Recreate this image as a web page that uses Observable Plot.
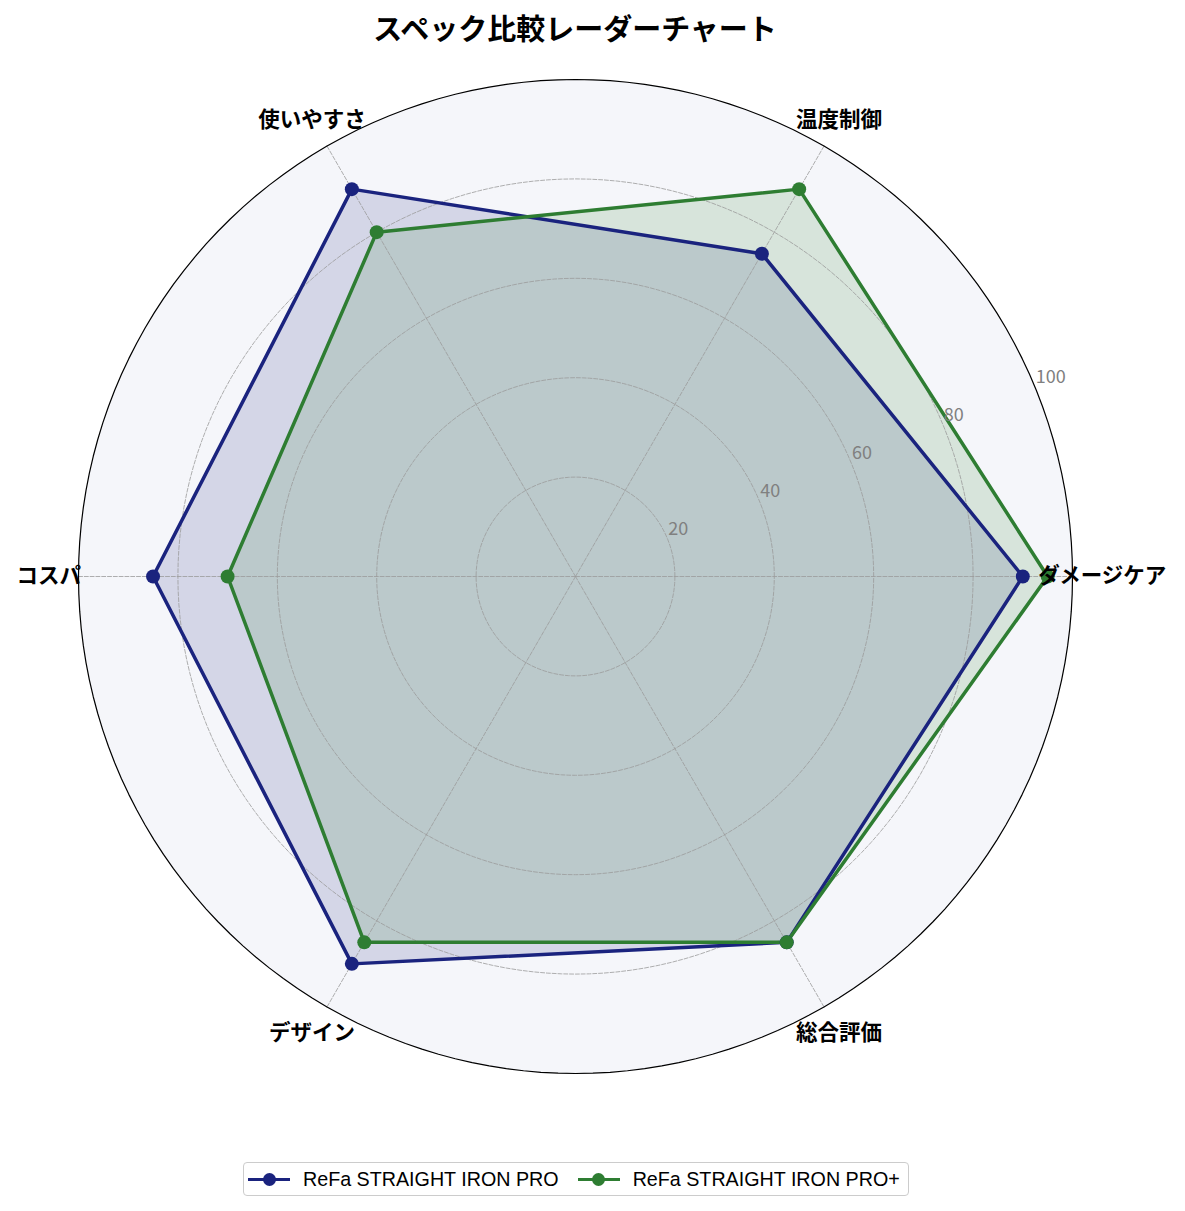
<!DOCTYPE html>
<html>
<head>
<meta charset="utf-8">
<script src="https://cdn.jsdelivr.net/npm/d3@7"></script>
<script src="https://cdn.jsdelivr.net/npm/@observablehq/plot@0.6"></script>
<style>
  html, body { margin: 0; padding: 0; background: #fff; }
  body { width: 1185px; font-family: "Noto Sans CJK JP", "Noto Sans", sans-serif; }
  #title { width: 1150px; height: 54px; line-height: 54px; text-align: center; font-size: 29px; font-weight: bold; color: #000; }
  #chart svg { display: block; }
  #legend { margin: 8px 0 0 243px; height: 34px; border: 1.5px solid #ccc; border-radius: 4px; box-sizing: border-box; display: inline-flex; align-items: center; padding: 0 8px 0 4px; font-family: "Liberation Sans", Arial, sans-serif; font-size: 19.7px; color: #000; }
  .item { display: flex; align-items: center; }
  .item + .item { margin-left: 19px; }
  .sw { position: relative; width: 42px; height: 14px; margin-right: 13px; }
  .sw .ln { position: absolute; left: 0; right: 0; top: 5.5px; height: 3.2px; }
  .sw .mk { position: absolute; left: 14.5px; top: 0.5px; width: 13px; height: 13px; border-radius: 50%; }
</style>
</head>
<body>
<div id="title">スペック比較レーダーチャート</div>
<div id="chart"></div>
<div id="legend"></div>
<script>
const categories = ["ダメージケア", "温度制御", "使いやすさ", "コスパ", "デザイン", "総合評価"];
const seriesNames = ["ReFa STRAIGHT IRON PRO", "ReFa STRAIGHT IRON PRO+"];
const proValues = [90, 75, 90, 85, 90, 85];
const proPlusValues = [95, 90, 80, 70, 85, 85];
const rTicks = [20, 40, 60, 80, 100];
const rMax = 100;
const colors = ["#1a237e", "#2e7d32"];

const W = 1185, H = 1100, k = 4.97, cx = 575, cy = 522;
const ang = i => (i * 2 * Math.PI) / categories.length;
const toXY = (v, a) => ({ x: v * Math.cos(a), y: v * Math.sin(a) });

const series = [proValues, proPlusValues].map((vals, s) =>
  vals.map((v, i) => ({ series: seriesNames[s], cat: categories[i], value: v, ...toXY(v, ang(i)) }))
);

const rings = rTicks.flatMap(t => d3.range(0, 361, 2).map(deg => ({ t, ...toXY(t, deg * Math.PI / 180) })));
const outer = rings.filter(d => d.t === rMax);
const inner = rings.filter(d => d.t !== rMax);
const spokes = categories.flatMap((c, i) => [{ c, ...toXY(0, ang(i)) }, { c, ...toXY(rMax, ang(i)) }]);
const catLabels = categories.map((c, i) => ({ c, ...toXY(106, ang(i)) }));
const tickA = 22.5 * Math.PI / 180;
const tickLabels = rTicks.map(t => ({ t, ...toXY(t, tickA) }));

const font = '"Noto Sans CJK JP", "Noto Sans", sans-serif';

const marks = [
  Plot.line(outer, { x: "x", y: "y", fill: "#f5f6fa", stroke: "none", curve: "linear-closed" }),
  ...series.map((pts, s) => Plot.line(pts, { x: "x", y: "y", fill: colors[s], fillOpacity: 0.15, stroke: "none", curve: "linear-closed" })),
  Plot.line(inner, { x: "x", y: "y", z: "t", stroke: "#9a9a9a", strokeWidth: 0.8, strokeDasharray: "4,1.8", curve: "linear-closed" }),
  Plot.line(spokes, { x: "x", y: "y", z: "c", stroke: "#9a9a9a", strokeWidth: 0.8, strokeDasharray: "4,1.8" }),
  ...series.map((pts, s) => Plot.line(pts, { x: "x", y: "y", stroke: colors[s], strokeWidth: 3.5, curve: "linear-closed" })),
  ...series.map((pts, s) => Plot.dot(pts, { x: "x", y: "y", r: 7, fill: colors[s], stroke: "none" })),
  Plot.line(outer, { x: "x", y: "y", stroke: "#000", strokeWidth: 1.2, curve: "linear-closed" }),
  Plot.text(tickLabels, { x: "x", y: "y", text: d => String(d.t), textAnchor: "start", lineAnchor: "bottom", fill: "#808080", fontSize: 18, dx: 1, dy: -3 }),
  Plot.text(catLabels, { x: "x", y: "y", text: "c", textAnchor: "middle", lineAnchor: "middle", fill: "#000", fontSize: 21.5, fontWeight: "bold" })
];

const chart = Plot.plot({
  width: W, height: H,
  margin: 0,
  x: { domain: [-cx / k, (W - cx) / k], axis: null },
  y: { domain: [-(H - cy) / k, cy / k], axis: null },
  style: { fontFamily: font, background: "transparent", overflow: "visible" },
  marks
});
document.getElementById("chart").appendChild(chart);

const legend = document.getElementById("legend");
seriesNames.forEach((name, s) => {
  const item = document.createElement("div");
  item.className = "item";
  item.innerHTML = `<div class="sw"><div class="ln" style="background:${colors[s]}"></div><div class="mk" style="background:${colors[s]}"></div></div><span>${name}</span>`;
  legend.appendChild(item);
});
</script>
</body>
</html>
